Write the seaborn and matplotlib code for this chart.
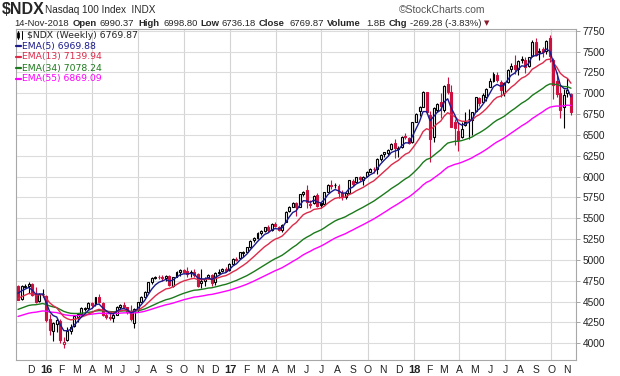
import numpy as np
import matplotlib
matplotlib.use('Agg')
import matplotlib.pyplot as plt
import matplotlib.dates as mdates
from matplotlib.lines import Line2D
import seaborn as sns
import pandas as pd

# weekly candles, first week starts Monday 9-Nov-2015
first_week = '2015-11-09'
prev_close = 4700  # close of the week before the first candle

opens = [
    4690, 4530, 4680, 4690, 4710, 4590, 4505, 4595,                                # Nov-Dec 2015
    4565, 4290, 4150, 4230, 4270, 3990, 4040, 4150, 4205, 4320, 4350, 4415, 4420,  # Jan-Mar 2016
    4480, 4470, 4550, 4480, 4345, 4320, 4300, 4345, 4440, 4460, 4430, 4380, 4240,  # Apr-Jun
    4410, 4500, 4560, 4620, 4730, 4785, 4800, 4795, 4780, 4805, 4690, 4800, 4850,  # Jul-Sep
    4880, 4870, 4840, 4860, 4830, 4720, 4750, 4780, 4820, 4730, 4840, 4870, 4895,  # Oct-Dec
    4880, 4955, 5010, 5020, 5080, 5100, 5150, 5240, 5260, 5320, 5350, 5390, 5360,  # Jan-Mar 2017
    5430, 5400, 5360, 5460, 5590, 5640, 5680, 5640, 5790, 5840, 5670, 5680, 5780,  # Apr-Jun
    5680, 5670, 5820, 5900, 5900, 5890, 5800, 5760, 5800, 5950, 5940, 5990, 5960,  # Jul-Sep
    6010, 6060, 6090, 6090, 6210, 6270, 6280, 6330, 6400, 6330, 6350, 6490, 6460,  # Oct-Dec
    6420, 6660, 6790, 6840, 7010, 6740, 6470, 6800, 6890, 6800, 7110, 7010, 6650,  # Jan-Mar 2018
    6550, 6480, 6620, 6690, 6680, 6790, 6940, 6900, 6960, 7080, 7150, 7220, 7130,  # Apr-Jun
    7000, 7140, 7290, 7340, 7290, 7400, 7400, 7330, 7450, 7620, 7490, 7530, 7510,  # Jul-Sep
    7660, 7400, 7150, 7000, 6830, 7000, 6990.37,                                   # Oct-Nov
]
highs = [
    4700, 4695, 4710, 4740, 4720, 4670, 4600, 4650,
    4575, 4350, 4260, 4300, 4290, 4070, 4200, 4230, 4340, 4360, 4430, 4440, 4500,
    4500, 4560, 4590, 4490, 4370, 4380, 4360, 4450, 4470, 4500, 4440, 4460, 4420,
    4500, 4570, 4630, 4740, 4790, 4810, 4815, 4820, 4815, 4825, 4800, 4870, 4890,
    4890, 4910, 4880, 4890, 4840, 4890, 4790, 4830, 4830, 4850, 4890, 4900, 4910,
    4960, 5020, 5030, 5100, 5110, 5160, 5240, 5270, 5340, 5360, 5400, 5420, 5440,
    5450, 5410, 5430, 5590, 5650, 5690, 5700, 5790, 5830, 5900, 5720, 5780, 5800,
    5690, 5820, 5910, 5960, 5920, 5910, 5840, 5820, 5960, 5970, 6000, 6010, 6010,
    6070, 6100, 6110, 6220, 6270, 6300, 6330, 6400, 6450, 6370, 6490, 6520, 6480,
    6660, 6760, 6850, 7030, 7020, 6790, 6830, 6880, 7000, 7100, 7190, 7100, 6690,
    6650, 6650, 6770, 6810, 6780, 6950, 6960, 7000, 7060, 7180, 7260, 7250, 7160,
    7130, 7290, 7360, 7460, 7400, 7450, 7430, 7440, 7640, 7660, 7540, 7560, 7640,
    7700, 7420, 7250, 7100, 7050, 7180, 6998.80,
]
lows = [
    4515, 4515, 4660, 4600, 4565, 4480, 4500, 4560,
    4255, 4100, 4030, 4140, 4000, 3940, 4030, 4110, 4190, 4250, 4330, 4390, 4400,
    4420, 4450, 4480, 4330, 4290, 4280, 4260, 4340, 4410, 4430, 4350, 4270, 4180,
    4370, 4500, 4540, 4600, 4710, 4770, 4770, 4750, 4750, 4690, 4680, 4790, 4810,
    4840, 4790, 4800, 4800, 4680, 4660, 4690, 4770, 4690, 4700, 4830, 4860, 4860,
    4870, 4950, 4990, 5010, 5040, 5090, 5140, 5220, 5250, 5300, 5330, 5330, 5350,
    5390, 5350, 5340, 5460, 5570, 5630, 5530, 5630, 5770, 5620, 5620, 5670, 5640,
    5620, 5660, 5810, 5850, 5860, 5740, 5720, 5730, 5790, 5890, 5930, 5950, 5900,
    6000, 6050, 6040, 6030, 6190, 6230, 6250, 6320, 6220, 6240, 6340, 6450, 6390,
    6400, 6650, 6730, 6830, 6770, 6170, 6420, 6770, 6700, 6780, 6990, 6590, 6380,
    6310, 6460, 6610, 6450, 6500, 6770, 6850, 6880, 6910, 7070, 7130, 7130, 6950,
    6970, 7120, 7250, 7230, 7220, 7360, 7240, 7320, 7440, 7450, 7400, 7440, 7470,
    7370, 6930, 6960, 6700, 6580, 6960, 6736.18,
]
closes = [
    4522, 4686, 4688, 4712, 4580, 4495, 4590, 4593,
    4283, 4160, 4240, 4280, 4040, 4010, 4146, 4200, 4330, 4355, 4420, 4425, 4485,
    4460, 4550, 4490, 4340, 4320, 4300, 4340, 4440, 4460, 4440, 4370, 4290, 4410,
    4490, 4560, 4620, 4730, 4780, 4800, 4795, 4780, 4805, 4700, 4790, 4860, 4875,
    4860, 4830, 4850, 4820, 4690, 4750, 4770, 4820, 4720, 4840, 4860, 4890, 4865,
    4955, 5015, 5005, 5090, 5100, 5150, 5230, 5265, 5320, 5350, 5390, 5360, 5430,
    5410, 5360, 5420, 5580, 5640, 5680, 5630, 5790, 5820, 5700, 5660, 5770, 5650,
    5660, 5810, 5900, 5890, 5895, 5800, 5750, 5800, 5955, 5910, 5990, 5970, 6000,
    6060, 6090, 6085, 6210, 6260, 6290, 6320, 6390, 6340, 6345, 6480, 6470, 6400,
    6650, 6750, 6830, 7020, 6780, 6450, 6820, 6870, 6850, 7090, 7010, 6600, 6580,
    6440, 6570, 6660, 6690, 6770, 6950, 6880, 6980, 7050, 7150, 7230, 7160, 7040,
    7120, 7280, 7330, 7290, 7390, 7405, 7310, 7430, 7620, 7460, 7510, 7500, 7630,
    7450, 7100, 6990, 6800, 6980, 7039.15, 6769.87,
]

ema_periods = [5, 13, 34, 55]
ema_seeds = [4640, 4540, 4400, 4315]   # EMA levels read at the left edge
ema_colors = ['#1a1a8c', '#dc2a4a', '#1b7a1b', '#ff00ff']
ema_labels = ['EMA(5) 6969.88', 'EMA(13) 7139.94', 'EMA(34) 7078.24', 'EMA(55) 6869.09']

assert len(opens) == len(highs) == len(lows) == len(closes)

weeks = pd.date_range(first_week, periods=len(closes), freq='7D')
df = pd.DataFrame({'week': weeks, 'open': opens, 'high': highs, 'low': lows, 'close': closes})
# StockCharts draws the weekly bar slightly before the Monday
df['x'] = mdates.date2num(df['week'] - pd.Timedelta(days=3))
df['prev'] = df['close'].shift(1).fillna(prev_close)

for n, seed in zip(ema_periods, ema_seeds):
    s = pd.Series([seed] + list(df['close']))
    df[f'ema{n}'] = s.ewm(span=n, adjust=False).mean().iloc[1:].values

RED = '#cc1040'

sns.set_style('white')
plt.rcParams['font.family'] = ['Liberation Sans', 'DejaVu Sans']

W, H = 620, 376
fig = plt.figure(figsize=(W / 100, H / 100), dpi=100)
ax = fig.add_axes([16 / W, 16 / H, 560 / W, 331 / H])

# candles
colors = np.where(df['close'] >= df['prev'], 'black', RED)
hollow = df['close'] > df['open']
ax.vlines(df['x'], df['low'], df['high'], colors=colors, lw=0.8, zorder=2)
body_lo = np.minimum(df['open'], df['close'])
body_h = np.maximum(np.abs(df['close'] - df['open']), 4)
faces = np.where(hollow, 'white', colors)
ax.bar(df['x'], body_h, bottom=body_lo, width=3.9, color=faces,
       edgecolor=colors, linewidth=0.8, zorder=3)

# EMA lines
for n, c in zip(ema_periods[::-1], ema_colors[::-1]):
    sns.lineplot(x=df['x'], y=df[f'ema{n}'], color=c, lw=1.0, ax=ax, zorder=4)

# axes styling
ax.set_xlim(mdates.date2num(pd.Timestamp('2015-11-02')), mdates.date2num(pd.Timestamp('2018-11-19')))
ax.set_ylim(3800, 7770)
ax.set_xlabel('')
ax.set_ylabel('')
ax.yaxis.tick_right()
ax.set_yticks(np.arange(4000, 7751, 250))
ax.tick_params(axis='y', length=3, width=0.6, color='#999999', labelsize=7.3,
               labelcolor='#222222', pad=2)
ax.grid(axis='y', color='#dcdcdc', lw=0.8)

months = pd.date_range('2015-12-01', '2018-11-01', freq='MS')
labels = [f"{m.year % 100:02d}" if m.month == 1 else m.strftime('%b')[0] for m in months]
ax.set_xticks(mdates.date2num(months))
ax.set_xticklabels(labels)
ax.tick_params(axis='x', length=2, width=0.6, color='#999999', labelsize=7.5,
               labelcolor='#222222', pad=1.5)
for lab, m in zip(ax.get_xticklabels(), months):
    if m.month == 1:
        lab.set_fontweight('bold')
        lab.set_fontsize(8)
for m in months:
    if m.month in (1, 4, 7, 10):
        ax.axvline(mdates.date2num(m), color='#d4d4d4', lw=0.8, zorder=0)

for sp in ax.spines.values():
    sp.set_color('#a8a8a8')
    sp.set_linewidth(0.8)


def fx(px):
    return px / W


def fy(py):
    return 1 - py / H


# header
fig.text(fx(2), fy(13.5), '$NDX', fontsize=11.5, fontweight='bold', va='baseline', parse_math=False)
fig.text(fx(45), fy(13), 'Nasdaq 100 Index  INDX', fontsize=7.2, va='baseline')
fig.text(fx(485), fy(13), '\u00a9StockCharts.com', fontsize=7.5, va='baseline', ha='right', color='#555555')

line2 = [
    (14, '14-Nov-2018', 'normal'), (73, 'Open', 'bold'), (99.5, '6990.37', 'normal'),
    (138, 'High', 'bold'), (163, '6998.80', 'normal'), (200, 'Low', 'bold'),
    (221, '6736.18', 'normal'), (259, 'Close', 'bold'), (290, '6769.87', 'normal'),
    (327, 'Volume', 'bold'), (366.5, '1.8B', 'normal'), (389, 'Chg', 'bold'),
    (410, '-269.28 (-3.83%)', 'normal'),
]
for px, t, w in line2:
    fig.text(fx(px), fy(26), t, fontsize=6.8, fontweight=w, va='baseline')
fig.text(fx(484), fy(25.5), '\u25bc', fontsize=5.0, va='baseline', color='#8b1a2b', family='DejaVu Sans')

# legend inside the plot
fig.text(fx(27), fy(35), '$NDX (Weekly) 6769.87', fontsize=6.7, va='center',
         family='DejaVu Sans', parse_math=False)
for dx in (17.5, 21.5):
    fig.add_artist(Line2D([fx(dx), fx(dx)], [fy(31), fy(39)], color='black', lw=0.7))
fig.add_artist(Line2D([fx(17.5), fx(17.5)], [fy(33), fy(37)], color='black', lw=2))
for i, (lab, col) in enumerate(zip(ema_labels, ema_colors)):
    y = 46 + 11 * i
    fig.add_artist(Line2D([fx(15.5), fx(21)], [fy(y), fy(y)], color=col, lw=1.6))
    fig.text(fx(21.5), fy(y), lab, fontsize=6.7, va='center', color=col, family='DejaVu Sans')

fig.savefig('out.png', dpi=100)
